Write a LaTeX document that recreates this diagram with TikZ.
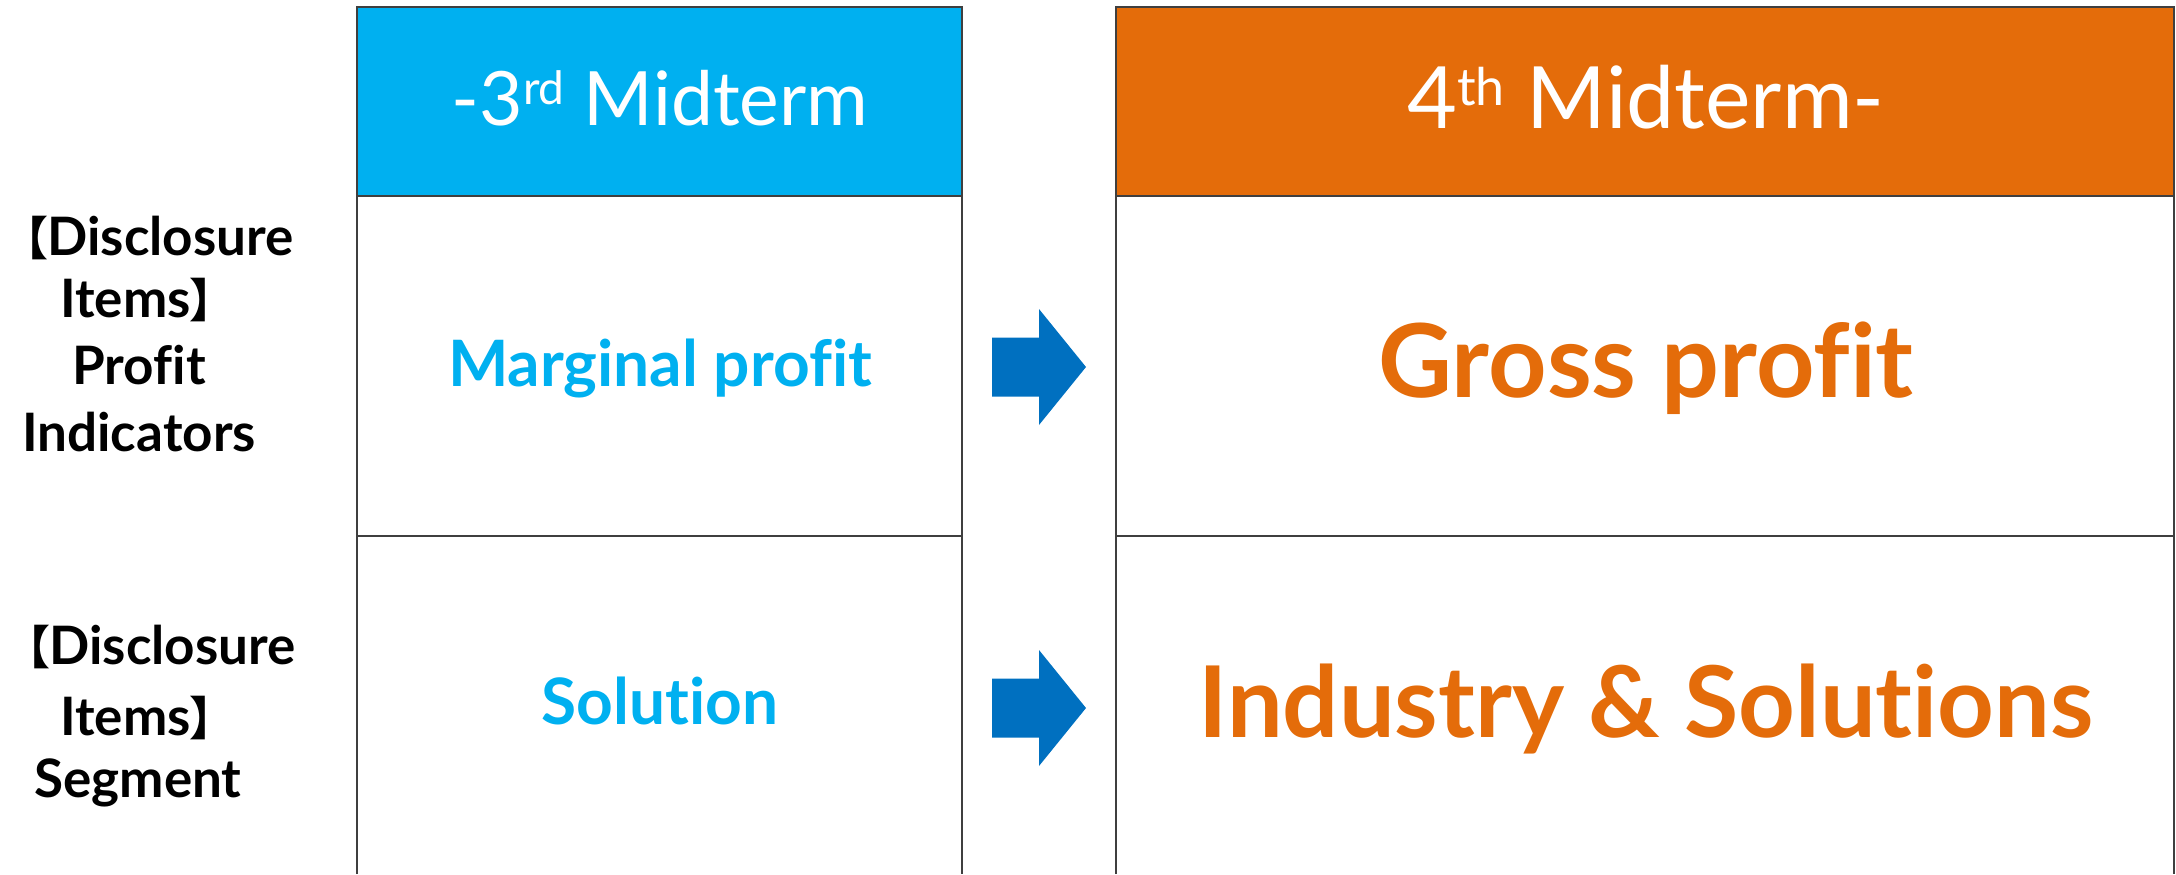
\documentclass[tikz,border=0pt]{standalone}
\usepackage{fontspec}
\setmainfont{Lato}[Ligatures={NoCommon}]
\newfontfamily\cjkfont{Noto Sans CJK JP}[RawFeature=+palt]
\definecolor{hdrblue}{HTML}{00B0F0}
\definecolor{hdrorange}{HTML}{E46C0A}
\definecolor{arrowblue}{HTML}{0070C0}
\definecolor{gridgray}{HTML}{3F3F3F}
\newcommand\supscr[3]{\raisebox{#2}{\fontsize{#1}{#1}\selectfont #3}}
\newcommand\lbrk{{\cjkfont\fontsize{23}{30}\selectfont 【}}
\newcommand\rbrk{{\cjkfont\fontsize{23}{30}\selectfont 】}}

\begin{document}
\begin{tikzpicture}[x=0.5pt,y=-0.5pt,
  gridline/.style={draw=gridgray, line width=1.25pt},
  hdrcell/.style={draw=none, inner sep=0, anchor=north west},
  hdrtext/.style={text=white, inner sep=0, anchor=base},
  rowlabel/.style={text=black, inner sep=0, font=\fontsize{26.5}{30}\selectfont\bfseries},
  oldtext/.style={text=hdrblue, inner sep=0, anchor=base, font=\fontsize{32}{36}\selectfont\bfseries},
  newtext/.style={text=hdrorange, inner sep=0, anchor=base, font=\fontsize{51}{56}\selectfont\bfseries},
  pics/blockarrow/.style={code={
    \fill[arrowblue] (0,-29.5) -- (47,-29.5) -- (47,-58) -- (94,0)
      -- (47,58) -- (47,29.5) -- (0,29.5) -- cycle;}}
]
\useasboundingbox (0,0) rectangle (2176,874);

% header cells
\node[hdrcell, fill=hdrblue, minimum width=302.5pt, minimum height=94.5pt] (hdrL) at (357,7) {};
\node[hdrcell, fill=hdrorange, minimum width=529.5pt, minimum height=94.5pt] (hdrR) at (1116,7) {};

% table rules (the tables run off the bottom edge)
\draw[gridline] (357,874) -- (357,7) -- (962,7) -- (962,874);
\draw[gridline] (357,196) -- (962,196);
\draw[gridline] (357,536) -- (962,536);
\draw[gridline] (1116,874) -- (1116,7) -- (2174,7) -- (2174,874);
\draw[gridline] (1116,196) -- (2174,196);
\draw[gridline] (1116,536) -- (2174,536);

% header texts
\node[hdrtext, font=\fontsize{37.5}{40}\selectfont] (h3) at (660,125)
  {-3\supscr{23}{10.5pt}{rd} Midterm};
\node[hdrtext, font=\fontsize{43}{46}\selectfont] (h4) at (1646,128)
  {4\supscr{26}{11.5pt}{th} Midterm-};

% row labels: profit indicators
\node[rowlabel, anchor=base west] (p1) at (24,255) {\lbrk Disclosure};
\node[rowlabel, anchor=base west] (p2) at (60,317) {Items\rbrk};
\node[rowlabel, anchor=base] (p3) at (139,384) {Profit};
\node[rowlabel, anchor=base] (p4) at (139,451) {Indicators};

% row labels: segment
\node[rowlabel, anchor=base west] (s1) at (26,664) {\lbrk Disclosure};
\node[rowlabel, anchor=base west] (s2) at (60,735) {Items\rbrk};
\node[rowlabel, anchor=base] (s3) at (138,797) {Segment};

% cell contents
\node[oldtext] (mp) at (660,386) {Marginal profit};
\node[oldtext] (sol) at (660,724) {Solution};
\node[newtext] (gp) at (1646,397) {Gross profit};
\node[newtext, font=\fontsize{49.5}{56}\selectfont\bfseries] (ind) at (1646,737) {Industry \& Solutions};

% transition arrows
\coordinate (a1) at (992,367);
\coordinate (a2) at (992,708);
\pic at (a1) {blockarrow};
\pic at (a2) {blockarrow};
\end{tikzpicture}
\end{document}
